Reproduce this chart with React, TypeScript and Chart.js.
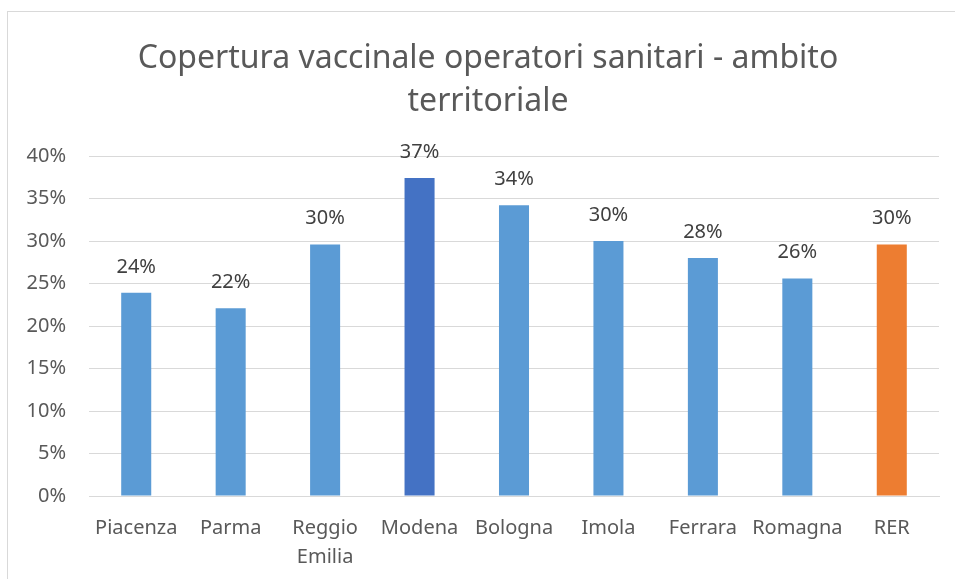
import React, { useEffect, useRef } from "react";
import { Chart, registerables } from "chart.js";

Chart.register(...registerables);

const categories: (string | string[])[] = [
  "Piacenza",
  "Parma",
  ["Reggio", "Emilia"],
  "Modena",
  "Bologna",
  "Imola",
  "Ferrara",
  "Romagna",
  "RER",
];
const coverage = [23.9, 22.1, 29.6, 37.4, 34.2, 30.0, 28.0, 25.6, 29.6];
const barColors = [
  "#5B9BD5",
  "#5B9BD5",
  "#5B9BD5",
  "#4472C4",
  "#5B9BD5",
  "#5B9BD5",
  "#5B9BD5",
  "#5B9BD5",
  "#ED7D31",
];
const titleLines = ["Copertura vaccinale operatori sanitari - ambito", "territoriale"];

const FONT = "'Noto Sans', 'DejaVu Sans', sans-serif";

const dataLabels = {
  id: "dataLabels",
  afterDatasetsDraw(chart: any) {
    const ctx = chart.ctx;
    const meta = chart.getDatasetMeta(0);
    ctx.save();
    ctx.font = `20px ${FONT}`;
    ctx.fillStyle = "#404040";
    ctx.textAlign = "center";
    ctx.textBaseline = "middle";
    meta.data.forEach((bar: any, i: number) => {
      const v = chart.data.datasets[0].data[i] as number;
      ctx.fillText(`${Math.round(v)}%`, bar.x, bar.y - 26);
    });
    ctx.restore();
  },
};

// Chart title, centred slightly right of the canvas middle as in the original
const chartTitle = {
  id: "chartTitle",
  afterDraw(chart: any) {
    const ctx = chart.ctx;
    ctx.save();
    ctx.font = `32px ${FONT}`;
    ctx.fillStyle = "#595959";
    ctx.textAlign = "center";
    ctx.textBaseline = "middle";
    const cx = chart.width / 2 + 6.5;
    titleLines.forEach((line, i) => {
      ctx.fillText(line, cx, 46.5 + i * 43);
    });
    ctx.restore();
  },
};

export default function App() {
  const ref = useRef<HTMLCanvasElement>(null);
  useEffect(() => {
    if (!ref.current) return;
    const chart = new Chart(ref.current, {
      type: "bar",
      data: {
        labels: categories,
        datasets: [
          {
            data: coverage,
            backgroundColor: barColors,
            borderWidth: 0,
            categoryPercentage: 1,
            barPercentage: 0.318,
          },
        ],
      },
      options: {
        responsive: false,
        animation: false,
        layout: { padding: { top: 144, right: 16, left: 0, bottom: 0 } },
        plugins: {
          legend: { display: false },
          tooltip: { enabled: false },
          title: { display: false },
        },
        scales: {
          x: {
            grid: { display: false },
            border: { display: true, color: "#d9d9d9", width: 1 },
            ticks: {
              color: "#595959",
              font: { family: FONT, size: 20, lineHeight: 1.45 },
              padding: 10,
              maxRotation: 0,
              autoSkip: false,
            },
            afterFit(scale: any) {
              scale.height = 83;
            },
          },
          y: {
            min: 0,
            max: 40,
            border: { display: false },
            grid: { color: "#d9d9d9", lineWidth: 1, drawTicks: false },
            ticks: {
              stepSize: 5,
              color: "#595959",
              font: { family: FONT, size: 20 },
              padding: 23,
              callback: (v: any) => `${v}%`,
            },
            afterFit(scale: any) {
              scale.width = 81;
            },
          },
        },
      },
      plugins: [dataLabels, chartTitle],
    });
    return () => chart.destroy();
  }, []);

  return (
    <div
      style={{
        position: "fixed",
        left: 0,
        top: 0,
        width: 955,
        height: 579,
        background: "#fff",
      }}
    >
      <div
        style={{
          position: "absolute",
          left: 7,
          top: 11,
          width: 948,
          height: 568,
          borderLeft: "1px solid #d9d9d9",
          borderTop: "1px solid #d9d9d9",
          boxSizing: "border-box",
        }}
      >
        <canvas ref={ref} width={947} height={567} style={{ display: "block" }} />
      </div>
    </div>
  );
}
